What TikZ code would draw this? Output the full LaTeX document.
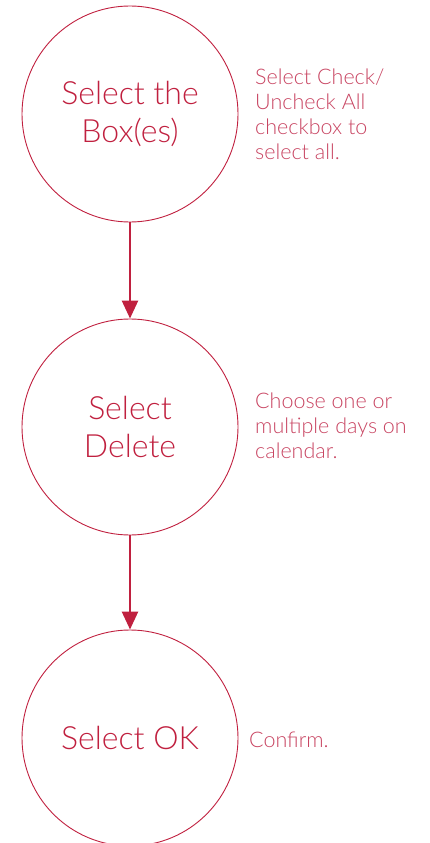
\documentclass[tikz,border=0pt]{standalone}
\usepackage{fontspec}
\setmainfont{Lato}[UprightFont=* Light]
\usetikzlibrary{arrows.meta}
\definecolor{crimson}{HTML}{C0203F}
\definecolor{notered}{HTML}{C84562}
\tikzset{
  stepcircle/.style={draw=crimson,line width=0.9pt,circle,minimum size=216pt,inner sep=0pt,
    align=center,text=crimson,font=\fontsize{32}{38}\selectfont},
  note/.style={anchor=base west,inner sep=0pt,align=left,text=notered,
    font=\fontsize{21.5}{25}\selectfont},
  flow/.style={draw=crimson,line width=2.6pt,-{Triangle[length=18pt,width=16pt]}}
}
\begin{document}
\begin{tikzpicture}[x=1pt,y=-1pt]
\useasboundingbox (0,0) rectangle (430,843);

% circles
\node[stepcircle] (boxes) at (130,114) {Select the\\Box(es)};
\node[stepcircle] (delete) at (130,427) {Select\\Delete};
\node[stepcircle] (ok) at (130,738) {Select OK};

% notes (anchored on last line)
\node[note] (boxesnote) at (255,159) {Select Check/\\Uncheck All\\checkbox to\\select all.};
\node[note] (deletenote) at (255,458) {Choose one or\\multiple days on\\calendar.};
\node[note] (oknote) at (249,747) {Confirm.};

\draw[flow] (boxes) -- (delete);
\draw[flow] (delete) -- (ok);

\end{tikzpicture}
\end{document}
